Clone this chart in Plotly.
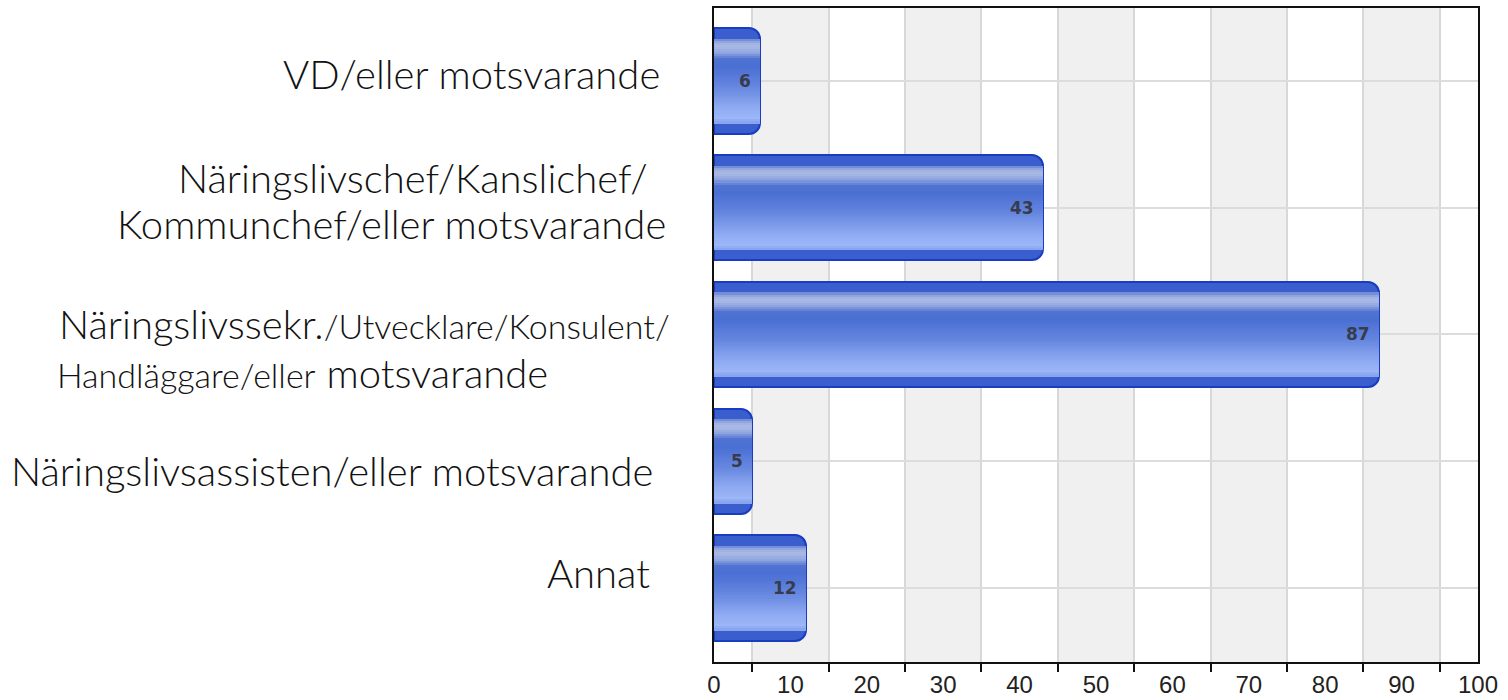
import plotly.graph_objects as go

# ---------------- data ----------------
categories = [
    "VD/eller motsvarande",
    "Näringslivschef/Kanslichef/ Kommunchef/eller motsvarande",
    "Näringslivssekr./Utvecklare/Konsulent/ Handläggare/eller motsvarande",
    "Näringslivsassisten/eller motsvarande",
    "Annat",
]
values = [6, 43, 87, 5, 12]
x_tick_vals = list(range(0, 101, 10))
x_tick_text = [str(v) for v in x_tick_vals]

# category label lines as they appear to the left of the plot
label_lines = [
    ["VD/eller motsvarande"],
    ["Näringslivschef/Kanslichef/", "Kommunchef/eller motsvarande"],
    ['Näringslivssekr.<span style="font-size:34px">/Utvecklare/Konsulent/</span>',
     '<span style="font-size:34px">Handläggare/eller</span> motsvarande'],
    ["Näringslivsassisten/eller motsvarande"],
    ["Annat"],
]

# ---------------- style ----------------
PLOT_L, PLOT_R, PLOT_T, PLOT_B = 714, 30, 8, 38
W, H = 1508, 700
BAR_W = 0.83
LABEL_FONT = dict(family="Lato, Open Sans, sans-serif", size=40, color="#111", weight=300)
# (anchor, pixel x, yshift) per line
label_pos = [
    [("right", 662, 7)],
    [("right", 650, 30), ("right", 668, -16)],
    [("left", 57, 10), ("left", 55, -39)],
    [("right", 655, -10)],
    [("right", 652, 15)],
]

stops = [
    (0.00, "#1a3dbf"), (0.04, "#2d52c9"), (0.09, "#5a78d0"), (0.14, "#9fb0e2"),
    (0.18, "#aabae6"), (0.23, "#8fa5e0"), (0.29, "#5073d2"), (0.36, "#4a6fd3"),
    (0.55, "#6586df"), (0.75, "#8eaaf2"), (0.85, "#9cb6f7"), (0.91, "#7e9ced"),
    (0.95, "#3a5dd0"), (1.00, "#1a3cc0"),
]


def hex2rgb(h):
    h = h.lstrip("#")
    return [int(h[i:i + 2], 16) for i in (0, 2, 4)]


def grad(t):
    for (t0, c0), (t1, c1) in zip(stops[:-1], stops[1:]):
        if t0 <= t <= t1:
            f = (t - t0) / (t1 - t0) if t1 > t0 else 0
            a, b = hex2rgb(c0), hex2rgb(c1)
            return "rgb(%d,%d,%d)" % tuple(round(a[i] + (b[i] - a[i]) * f) for i in range(3))
    return stops[-1][1]


fig = go.Figure()

# base bar (rounded outline)
fig.add_trace(go.Bar(
    y=categories, x=values, orientation="h", width=BAR_W,
    marker=dict(color="#3a5ecd", line=dict(width=2, color="#1a3cc0"), cornerradius=11),
    hoverinfo="skip", showlegend=False,
))

# gradient slices (middle band, outside the rounded corner zone)
T0, T1, N = 0.10, 0.90, 40
step = (T1 - T0) / N
for i in range(N):
    t = T0 + i * step
    fig.add_trace(go.Bar(
        y=categories, x=values, orientation="h",
        width=step * BAR_W * 1.3, offset=-BAR_W / 2 + t * BAR_W,
        marker=dict(color=grad(t + step / 2), line=dict(width=0)),
        hoverinfo="skip", showlegend=False,
    ))

annotations = []
# value labels
for c, v in zip(categories, values):
    annotations.append(dict(
        x=v, y=c, xref="x", yref="y", text=str(v), showarrow=False,
        xanchor="right", yanchor="middle", xshift=-7,
        font=dict(family="DejaVu Sans, Verdana, sans-serif", size=17, color="#363c4c", weight="bold"),
    ))
# category labels
for c, lines, poss in zip(categories, label_lines, label_pos):
    for txt, (anc, px, ys) in zip(lines, poss):
        annotations.append(dict(
            x=0, y=c, xref="paper", yref="y", text=txt, showarrow=False,
            xanchor=anc, yanchor="middle", xshift=px - PLOT_L, yshift=ys,
            font=LABEL_FONT, align=anc,
        ))

shapes = []
for x0 in range(5, 100, 20):
    shapes.append(dict(type="rect", xref="x", yref="paper", x0=x0, x1=x0 + 10, y0=0, y1=1,
                       fillcolor="#f0f0f0", line=dict(width=0), layer="below"))

fig.update_layout(
    width=W, height=H,
    margin=dict(l=PLOT_L, r=PLOT_R, t=PLOT_T, b=PLOT_B, pad=0, autoexpand=False),
    paper_bgcolor="white", plot_bgcolor="white",
    barmode="overlay", bargap=0,
    showlegend=False,
    annotations=annotations,
    shapes=shapes,
    xaxis=dict(
        range=[0, 100], tickmode="array", tickvals=x_tick_vals, ticktext=x_tick_text,
        ticks="", showgrid=False, zeroline=False, automargin=False,
        showline=True, mirror=True, linecolor="#111", linewidth=2,
        tickfont=dict(family="Liberation Sans, Arial, sans-serif", size=24, color="#222"),
        minor=dict(tickmode="array", tickvals=list(range(5, 100, 10)), ticks="outside",
                   ticklen=8, tickwidth=2, tickcolor="#111",
                   showgrid=True, gridcolor="#d8d8d8", gridwidth=2),
    ),
    yaxis=dict(
        categoryorder="array", categoryarray=categories, automargin=False,
        range=[4.584, -0.576], showticklabels=False, ticks="",
        showgrid=True, gridcolor="#dcdcdc", gridwidth=2, zeroline=False,
        showline=True, mirror=True, linecolor="#111", linewidth=2,
    ),
)

fig.write_html("out.html", config={"displayModeBar": False},
               post_script="document.body.style.margin='0';")
